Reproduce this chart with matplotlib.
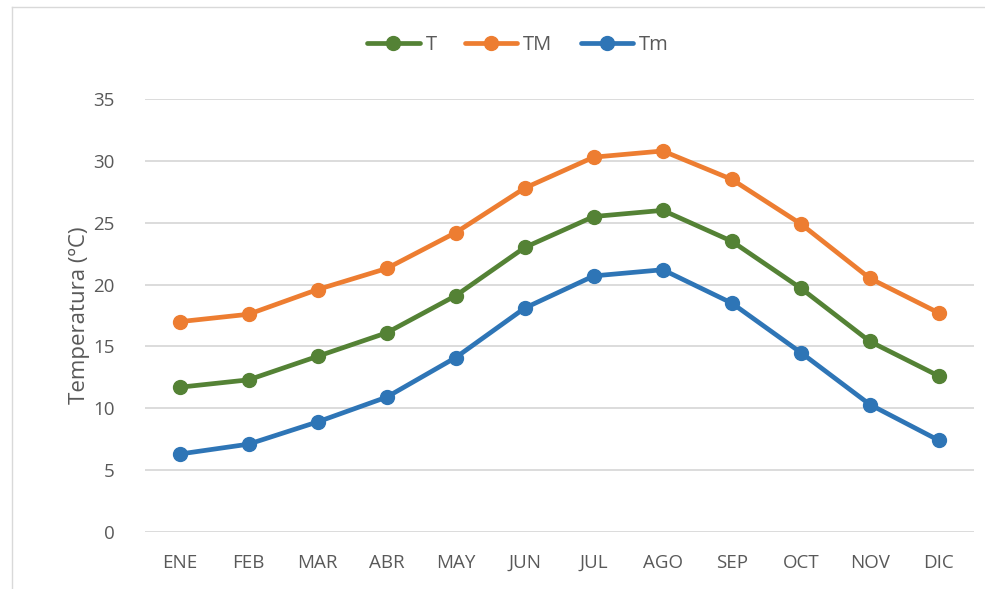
import matplotlib
matplotlib.use("Agg")
import matplotlib.pyplot as plt
from matplotlib.lines import Line2D

months = ["ENE", "FEB", "MAR", "ABR", "MAY", "JUN", "JUL", "AGO", "SEP", "OCT", "NOV", "DIC"]
T = [11.7, 12.3, 14.2, 16.1, 19.1, 23.0, 25.5, 26.0, 23.5, 19.7, 15.4, 12.6]
TM = [17.0, 17.6, 19.6, 21.3, 24.2, 27.8, 30.3, 30.8, 28.5, 24.9, 20.5, 17.7]
Tm = [6.3, 7.1, 8.9, 10.9, 14.1, 18.1, 20.7, 21.2, 18.5, 14.5, 10.3, 7.4]
yticks = [0, 5, 10, 15, 20, 25, 30, 35]

plt.rcParams['font.family'] = ["Open Sans", 'DejaVu Sans']

fig = plt.figure(figsize=(9.85, 5.89), dpi=100)
ax = fig.add_axes([145/985, 1-532/589, (973.5-145)/985, (532-99)/589])

x = list(range(len(months)))
series = [("T", T, "#548235"), ("TM", TM, "#ED7D31"), ("Tm", Tm, "#2E75B6")]
for name, vals, c in series:
    ax.plot(x, vals, color=c, lw=3.4, marker="o", ms=10, label=name, solid_capstyle="round")

ax.set_xlim(-0.5, 11.5)
ax.set_ylim(0, 35)
ax.set_yticks(yticks)
ax.set_xticks(x)
ax.set_xticklabels(months)
ax.grid(axis="y", color="#D9D9D9", lw=1.3)
ax.set_axisbelow(True)
for s in ax.spines.values():
    s.set_visible(False)
ax.tick_params(length=0, labelsize=13.5, colors="#595959")
ax.tick_params(axis="x", pad=16)
ax.tick_params(axis="y", pad=22)
ax.set_ylabel("Temperatura (ºC)", fontsize=16, color="#595959", labelpad=2)

leg = fig.legend(loc="center", bbox_to_anchor=(518/985, 1-45/589), ncol=3, frameon=False,
                 fontsize=14.5, handlelength=2.6, columnspacing=1.4, handletextpad=0.3,
                 labelcolor="#595959")

fig.add_artist(Line2D([12/985, 12/985], [0, 1-7/589], transform=fig.transFigure, color="#D9D9D9", lw=1))
fig.add_artist(Line2D([12/985, 1], [1-7/589, 1-7/589], transform=fig.transFigure, color="#D9D9D9", lw=1))

fig.savefig("out.png", dpi=100)
